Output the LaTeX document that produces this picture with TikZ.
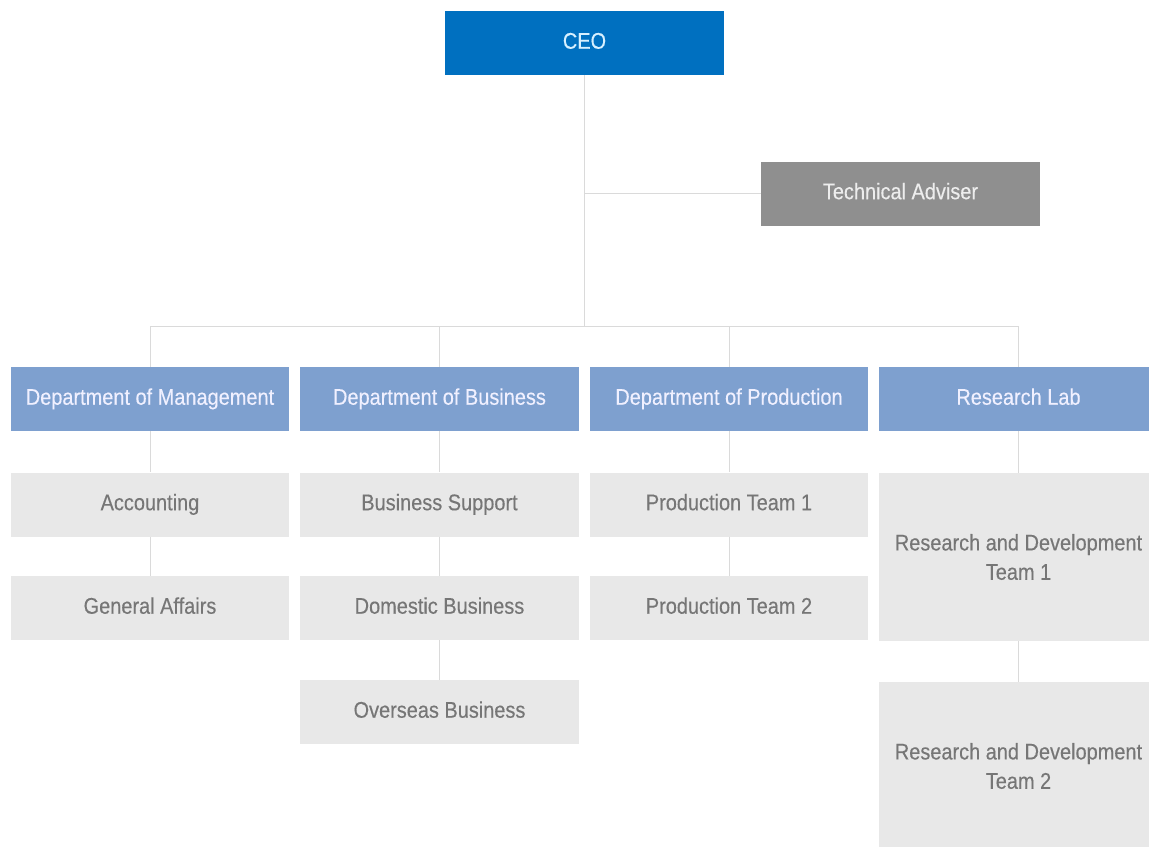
\documentclass[tikz,border=0pt]{standalone}
\usepackage{fontspec}
\setmainfont{Liberation Sans}[FakeStretch=0.88, FakeBold=0.3]

\definecolor{ceoblue}{RGB}{0,112,192}
\definecolor{ceotext}{RGB}{215,240,255}
\definecolor{advgray}{RGB}{143,143,143}
\definecolor{deptblue}{RGB}{126,160,207}
\definecolor{teamgray}{RGB}{232,232,232}
\definecolor{teamtext}{RGB}{118,118,118}
\definecolor{linegray}{RGB}{218,218,218}

\tikzset{
  box/.style={minimum width=209pt, minimum height=48pt, inner sep=0pt,
    align=center, text height=0.86em, text depth=0pt,
    font=\fontsize{17}{22}\selectfont},
  ceobox/.style={box, fill=ceoblue, text=ceotext},
  advbox/.style={box, fill=advgray, text=white!93!black},
  deptbox/.style={box, fill=deptblue, text=white!94!blue},
  teambox/.style={box, fill=teamgray, text=teamtext},
  tallbox/.style={teambox, minimum height=126pt, text height={}, text depth={}},
  link/.style={draw=linegray, line width=0.6pt}
}

\begin{document}
\begin{tikzpicture}[x=0.75pt, y=-0.75pt]

        \useasboundingbox (0,0) rectangle (1149,846);
        \clip (0,0) rectangle (1149,846);

        % Top
        \node[ceobox] (ceo) at (584.5,43) {CEO};
        \node[advbox] (adv) at (900.5,193.5) {Technical Adviser};
        \coordinate (bus) at (585,326);

        % Departments
        \node[deptbox] (mgmt) at (150,399) {Department of Management};
        \node[deptbox] (biz)  at (439.5,399) {Department of Business};
        \node[deptbox] (prod) at (729,399) {Department of Production};
        \node[deptbox] (lab)  at (1018.5,399) {Research Lab};

        % Teams
        \node[teambox] (acc)  at (150,504.5) {Accounting};
        \node[teambox] (gen)  at (150,608) {General Affairs};
        \node[teambox] (sup)  at (439.5,504.5) {Business Support};
        \node[teambox] (dom)  at (439.5,608) {Domestic Business};
        \node[teambox] (ovs)  at (439.5,712) {Overseas Business};
        \node[teambox] (pt1)  at (729,504.5) {Production Team 1};
        \node[teambox] (pt2)  at (729,608) {Production Team 2};
        \node[tallbox] (rd1)  at (1018.5,557) {Research and Development\\Team 1};
        \node[tallbox] (rd2)  at (1018.5,766) {Research and Development\\Team 2};

        % Lines
        \path[link] (ceo.south) -- (ceo.south |- bus);
        \path[link] (ceo.south |- adv) -- (adv.west);
        \path[link] (mgmt.north |- bus) -- (lab.north |- bus);
        \foreach \d in {mgmt,biz,prod,lab}
        \path[link] (\d.north |- bus) -- (\d.north);
        \foreach \a/\b in {mgmt/acc,acc/gen,biz/sup,sup/dom,dom/ovs,prod/pt1,pt1/pt2,lab/rd1,rd1/rd2}
        \path[link] (\a.south) -- (\b.north);

\end{tikzpicture}
\end{document}
